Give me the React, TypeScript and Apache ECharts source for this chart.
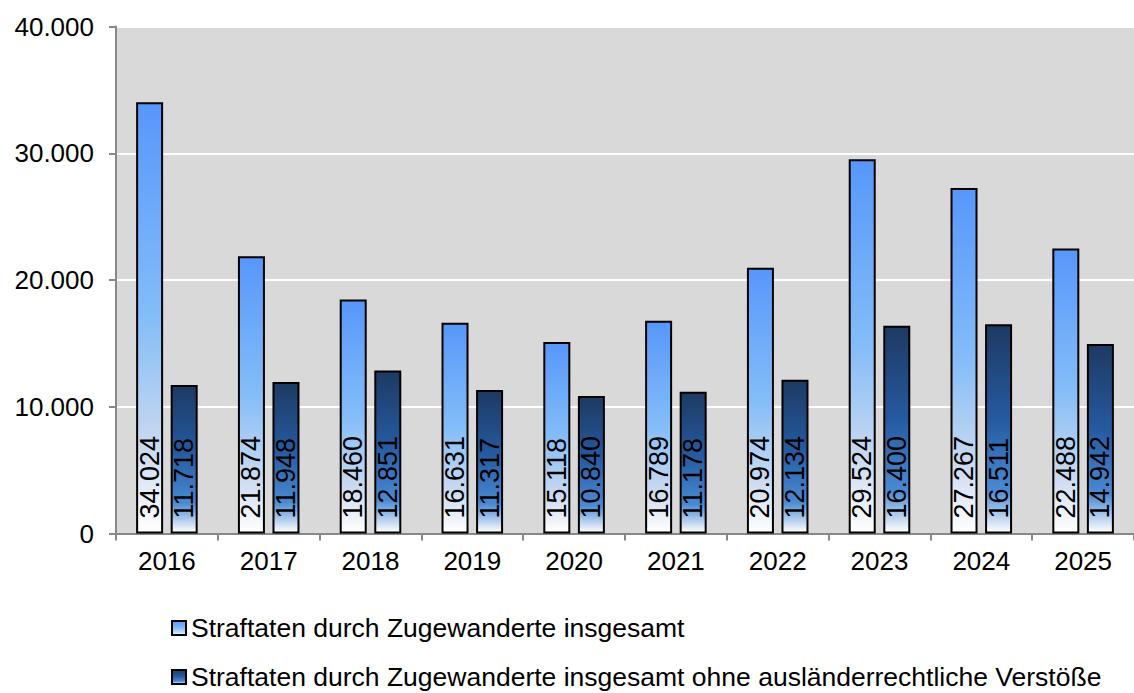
import React, { useEffect, useRef } from "react";
import * as echarts from "echarts";

const years = ["2016", "2017", "2018", "2019", "2020", "2021", "2022", "2023", "2024", "2025"];
const totalValues = [34024, 21874, 18460, 16631, 15118, 16789, 20974, 29524, 27267, 22488];
const withoutForeignLawValues = [11718, 11948, 12851, 11317, 10840, 11178, 12134, 16400, 16511, 14942];
const seriesNames = [
  "Straftaten durch Zugewanderte insgesamt",
  "Straftaten durch Zugewanderte insgesamt ohne ausländerrechtliche Verstöße",
];

const FONT = "'Liberation Sans', Arial, sans-serif";

const fmt = (v: number) => {
  const s = Math.round(v).toString();
  return s.replace(/\B(?=(\d{3})+(?!\d))/g, ".");
};

const lightGrad = new echarts.graphic.LinearGradient(0, 0, 0, 1, [
  { offset: 0, color: "#5797fb" },
  { offset: 0.5, color: "#84bdf8" },
  { offset: 0.8, color: "#c9d9ef" },
  { offset: 1, color: "#ffffff" },
]);
const darkGrad = new echarts.graphic.LinearGradient(0, 0, 0, 1, [
  { offset: 0, color: "#1d3a62" },
  { offset: 0.45, color: "#255aa0" },
  { offset: 0.8, color: "#4a8ad4" },
  { offset: 1, color: "#ffffff" },
]);

export default function App() {
  const ref = useRef<HTMLDivElement>(null);
  useEffect(() => {
    if (!ref.current) return;
    const chart = echarts.init(ref.current, undefined, { renderer: "svg" });
    const label = {
      show: true,
      position: "insideBottom",
      rotate: 90,
      align: "left",
      verticalAlign: "middle",
      distance: 15,
      color: "#000",
      fontSize: 27,
      fontFamily: FONT,
      formatter: (p: any) => fmt(p.value),
    };
    const legendBase = {
      orient: "horizontal",
      left: 171,
      padding: 0,
      itemWidth: 14,
      itemHeight: 14,
      itemGap: 10,
      icon: "rect",
      textStyle: { fontSize: 26.5, fontFamily: FONT, color: "#000", lineHeight: 30 },
      itemStyle: { borderColor: "#000", borderWidth: 2 },
    };
    chart.setOption({
      animation: false,
      backgroundColor: "#ffffff",
      grid: {
        left: 116,
        top: 26.5,
        width: 1030,
        height: 507,
        show: true,
        backgroundColor: "#d9d9d9",
        borderWidth: 0,
      },
      legend: [
        { ...legendBase, top: 613, data: [seriesNames[0]] },
        { ...legendBase, top: 662, data: [seriesNames[1]] },
      ],
      xAxis: {
        type: "category",
        data: years,
        axisLine: { lineStyle: { color: "#888", width: 2 } },
        axisTick: { show: true, length: 7, lineStyle: { color: "#888", width: 2 } },
        axisLabel: { color: "#000", fontSize: 26, fontFamily: FONT, margin: 14 },
      },
      yAxis: {
        type: "value",
        min: 0,
        max: 40000,
        interval: 10000,
        axisLine: { show: true, lineStyle: { color: "#888", width: 2 } },
        axisTick: { show: true, length: 7, lineStyle: { color: "#888", width: 2 } },
        splitLine: { lineStyle: { color: "#ffffff", width: 2 } },
        axisLabel: {
          color: "#000",
          fontSize: 26,
          fontFamily: FONT,
          margin: 22,
          formatter: (v: number) => fmt(v),
        },
      },
      series: [
        {
          name: seriesNames[0],
          type: "bar",
          data: totalValues,
          barWidth: 27,
          barGap: "28%",
          itemStyle: { color: lightGrad, borderColor: "#000", borderWidth: 2 },
          label,
        },
        {
          name: seriesNames[1],
          type: "bar",
          data: withoutForeignLawValues,
          barWidth: 27,
          barGap: "28%",
          itemStyle: { color: darkGrad, borderColor: "#000", borderWidth: 2 },
          label,
        },
      ],
    });
    return () => chart.dispose();
  }, []);
  return (
    <div
      ref={ref}
      style={{ position: "fixed", left: 0, top: 0, width: 1134, height: 693 }}
    />
  );
}
